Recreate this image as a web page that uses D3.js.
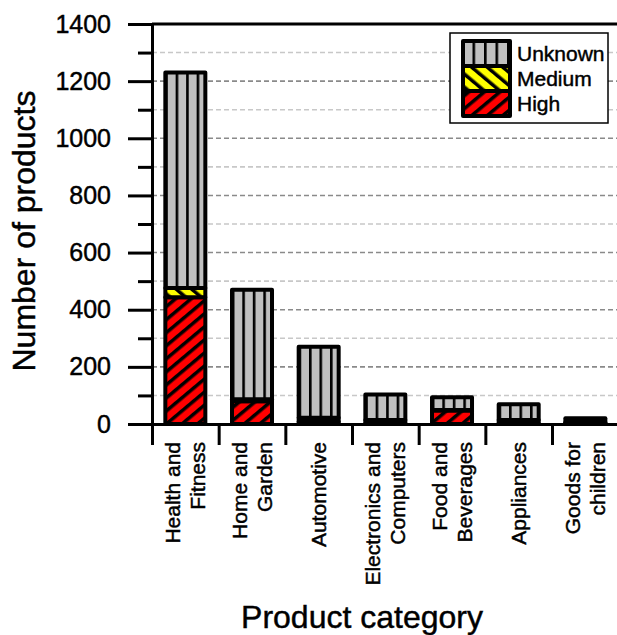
<!DOCTYPE html>
<html>
<head>
<meta charset="utf-8">
<script src="https://cdn.jsdelivr.net/npm/d3@7"></script>
<style>
  html, body { margin: 0; padding: 0; background: #fff; }
  svg { display: block; font-family: "Liberation Sans", Arial, sans-serif; }
  svg text { stroke: #000; stroke-width: 0.45px; }
</style>
</head>
<body>
<svg id="chart" width="617" height="635"></svg>
<script>
// ---- data ----
const categories = ["Health and Fitness", "Home and Garden", "Automotive", "Electronics and Computers", "Food and Beverages", "Appliances", "Goods for children"];
const categoryLines = [["Health and", "Fitness"], ["Home and", "Garden"], ["Automotive"], ["Electronics and", "Computers"], ["Food and", "Beverages"], ["Appliances"], ["Goods for", "children"]];
const high = [444, 80, 8, 3, 47, 3, 2];
const medium = [32, 7, 14, 11, 2, 11, 4];
const unknown = [754, 383, 248, 89, 45, 55, 14];
const seriesNames = ["High", "Medium", "Unknown"];
const legendOrder = ["Unknown", "Medium", "High"];
const majorTicks = [0, 200, 400, 600, 800, 1000, 1200, 1400];
const minorTicks = [100, 300, 500, 700, 900, 1100, 1300];
const gridValues = [100, 200, 300, 400, 500, 600, 700, 800, 900, 1000, 1100, 1200, 1300];

const svg = d3.select("#chart");
const mLeft = 152, mTop = 24, mBottom = 424, mRight = 617;
const step = 66.67;

const y = d3.scaleLinear().domain([0, 1400]).range([mBottom, mTop]);
const x = d3.scaleBand().domain(categories).range([mLeft, mLeft + step * categories.length])
  .paddingInner(0.4).paddingOuter(0.2);
const xi = d3.scaleLinear().domain([0, categories.length]).range([mLeft, mLeft + step * categories.length]);

const defs = svg.append("defs");
function hatch(id, color, angle) {
  const p = defs.append("pattern").attr("id", id).attr("patternUnits", "userSpaceOnUse")
    .attr("width", 10).attr("height", 10).attr("patternTransform", `rotate(${angle})`);
  p.append("rect").attr("width", 10).attr("height", 10).attr("fill", color);
  p.append("rect").attr("x", 0).attr("y", 0).attr("width", 3.5).attr("height", 10).attr("fill", "#000");
}
hatch("hatchHigh", "#ff0000", 50);
hatch("hatchMed", "#ffff00", -50);
function vlines(id, x0, w) {
  const p = defs.append("pattern").attr("id", id).attr("patternUnits", "userSpaceOnUse")
    .attr("x", x0).attr("y", 0).attr("width", w).attr("height", 10);
  p.append("rect").attr("width", w).attr("height", 10).attr("fill", "#c0c0c0");
  p.append("rect").attr("x", 0).attr("width", 2.6).attr("height", 10).attr("fill", "#000");
}
categories.forEach((c, i) => vlines("unk" + i, x(c) + 10.3, 10.5));
vlines("unkLeg", 463 + 9.5, 11.5);

// gridlines
svg.append("g").selectAll("line").data(gridValues).join("line")
  .attr("x1", mLeft).attr("x2", mRight).attr("y1", d => y(d)).attr("y2", d => y(d))
  .attr("stroke", d => d % 200 === 0 ? "#8a8a8a" : "#c8c8c8")
  .attr("stroke-width", 1.6).attr("stroke-dasharray", "5,3");

// bars
const seriesData = { High: high, Medium: medium, Unknown: unknown };
const fills = { High: () => "url(#hatchHigh)", Medium: () => "url(#hatchMed)", Unknown: i => `url(#unk${i})` };
const barG = svg.append("g");
categories.forEach((c, i) => {
  let base = 0;
  seriesNames.forEach(s => {
    const v = seriesData[s][i];
    barG.append("rect")
      .attr("x", x(c)).attr("width", x.bandwidth())
      .attr("y", y(base + v)).attr("height", y(base) - y(base + v))
      .attr("fill", fills[s](i)).attr("stroke", "#000").attr("stroke-width", 4)
      .attr("stroke-linejoin", "round");
    base += v;
  });
});

// top frame line
svg.append("line").attr("x1", mLeft).attr("x2", mRight).attr("y1", y(1400)).attr("y2", y(1400))
  .attr("stroke", "#000").attr("stroke-width", 3);

// y axis
const yAxis = svg.append("g").attr("transform", `translate(${mLeft},0)`)
  .call(d3.axisLeft(y).tickValues(majorTicks).tickFormat(d3.format("d")).tickSize(24).tickPadding(17).tickSizeOuter(0));
yAxis.select(".domain").attr("stroke-width", 3);
yAxis.selectAll(".tick line").attr("stroke-width", 3);
yAxis.selectAll(".tick text").attr("font-size", 25).attr("font-family", "Liberation Sans, Arial, sans-serif").attr("fill", "#000");
const yMinor = svg.append("g").attr("transform", `translate(${mLeft},0)`)
  .call(d3.axisLeft(y).tickValues(minorTicks).tickSize(14).tickFormat(""));
yMinor.select(".domain").remove();
yMinor.selectAll(".tick line").attr("stroke-width", 3);

// x axis
const xAxis = svg.append("g").attr("transform", `translate(0,${mBottom})`)
  .call(d3.axisBottom(xi).tickValues(d3.range(categories.length + 1)).tickSize(21).tickFormat("").tickSizeOuter(0));
xAxis.select(".domain").attr("stroke-width", 3);
xAxis.selectAll(".tick line").attr("stroke-width", 3);

// category labels
categories.forEach((c, i) => {
  const cx = x(c) + x.bandwidth() / 2;
  const lines = categoryLines[i];
  const n = lines.length;
  lines.forEach((t, j) => {
    const offset = (j - (n - 1) / 2) * 25;
    svg.append("text")
      .attr("transform", `translate(${cx + offset + 7.5},442) rotate(-90)`)
      .attr("text-anchor", "end").attr("font-size", 21).attr("fill", "#000")
      .text(t);
  });
});

// axis titles
svg.append("text").attr("transform", "translate(35,231) rotate(-90)")
  .attr("text-anchor", "middle").attr("font-size", 32).attr("fill", "#000").text("Number of products");
svg.append("text").attr("x", 362).attr("y", 628)
  .attr("text-anchor", "middle").attr("font-size", 32).attr("fill", "#000").text("Product category");

// legend
const leg = svg.append("g");
leg.append("rect").attr("x", 450).attr("y", 33).attr("width", 158).attr("height", 90)
  .attr("fill", "#fff").attr("stroke", "#000").attr("stroke-width", 1.5);
const legFill = { Unknown: "url(#unkLeg)", Medium: "url(#hatchMed)", High: "url(#hatchHigh)" };
legendOrder.forEach((s, k) => {
  const yy = 41 + k * 25;
  leg.append("rect").attr("x", 463).attr("y", yy).attr("width", 47).attr("height", 25)
    .attr("fill", legFill[s]).attr("stroke", "#000").attr("stroke-width", 4).attr("stroke-linejoin", "round");
  leg.append("text").attr("x", 517).attr("y", yy + 12.5).attr("dy", "0.36em")
    .attr("font-size", 21).attr("fill", "#000").text(s);
});
</script>
</body>
</html>
